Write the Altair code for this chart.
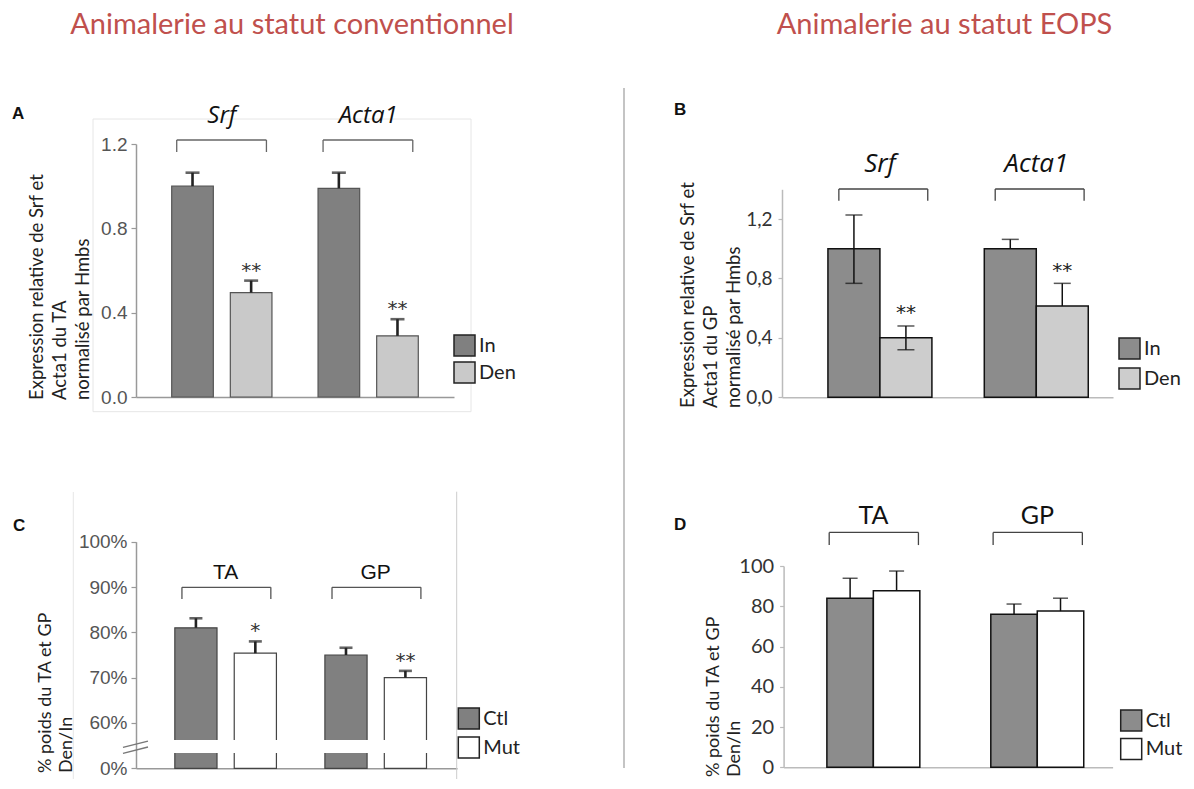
import altair as alt
import pandas as pd

# ---------------- text ----------------
titles = ["Animalerie au statut conventionnel", "Animalerie au statut EOPS"]
panel_letters = ["A", "B", "C", "D"]
ytitle_a = "Expression relative de Srf et\nActa1 du TA\nnormalisé par Hmbs"
ytitle_b = "Expression relative de Srf et\nActa1 du GP\nnormalisé par Hmbs"
ytitle_cd = "% poids du TA et GP\nDen/In"

# ---------------- panel A ----------------
a_groups = ["Srf", "Acta1"]
a_series = ["In", "Den"]
a_bar_group = ["Srf", "Srf", "Acta1", "Acta1"]
a_bar_series = ["In", "Den", "In", "Den"]
a_values = [1.00, 0.495, 0.99, 0.29]
a_err_up = [0.064, 0.057, 0.074, 0.079]
a_err_down = [0, 0, 0, 0]
a_stars = ["", "**", "", "**"]
a_ticks = [0.0, 0.4, 0.8, 1.2]

# ---------------- panel B ----------------
b_groups = ["Srf", "Acta1"]
b_series = ["In", "Den"]
b_bar_group = ["Srf", "Srf", "Acta1", "Acta1"]
b_bar_series = ["In", "Den", "In", "Den"]
b_values = [1.00, 0.40, 1.00, 0.615]
b_err_up = [0.227, 0.08, 0.063, 0.152]
b_err_down = [0.233, 0.08, 0, 0]
b_stars = ["", "**", "", "**"]
b_ticks = [0.0, 0.4, 0.8, 1.2]

# ---------------- panel C ----------------
c_groups = ["TA", "GP"]
c_series = ["Ctl", "Mut"]
c_bar_group = ["TA", "TA", "GP", "GP"]
c_bar_series = ["Ctl", "Mut", "Ctl", "Mut"]
c_values = [81.0, 75.4, 75.0, 70.0]
c_err_up = [2.1, 2.6, 1.6, 1.5]
c_err_down = [0, 0, 0, 0]
c_stars = ["", "*", "", "**"]
c_ticks = [50, 60, 70, 80, 90, 100]   # 50 stands for the broken-axis "0%"

# ---------------- panel D ----------------
d_groups = ["TA", "GP"]
d_series = ["Ctl", "Mut"]
d_bar_group = ["TA", "TA", "GP", "GP"]
d_bar_series = ["Ctl", "Mut", "Ctl", "Mut"]
d_values = [84.0, 87.7, 76.0, 77.6]
d_err_up = [9.9, 9.8, 5.1, 6.4]
d_err_down = [0, 0, 0, 0]
d_stars = ["", "", "", ""]
d_ticks = [0, 20, 40, 60, 80, 100]

W, H = 1178, 771
O = 8


def px(v):
    return v - O


def make_panel(groups, series, bar_group, bar_series, values, err_up, err_down,
               stars, ticks, st):
    df = pd.DataFrame({
        "group": bar_group,
        "series": bar_series,
        "value": values,
        "lo": [v - d for v, d in zip(values, err_down)],
        "hi": [v + u for v, u in zip(values, err_up)],
        "star": stars,
    })
    gdf = pd.DataFrame({"group": groups})

    xs = alt.Scale(range=[px(st["x0"]), px(st["x1"])], paddingInner=st["pi"],
                   paddingOuter=st["po"], align=st["align"])
    ys = alt.Scale(domain=st["ydom"], range=[px(st["ybot"]), px(st["ytop"])],
                   nice=False, zero=False)
    xaxis = alt.Axis(orient="bottom", offset=px(st["ybot"]) - H, labels=False,
                     ticks=False, domain=True, domainColor=st["axc"],
                     domainWidth=1.5, title=None, grid=False)
    yaxis = alt.Axis(orient="left", offset=-px(st["x0"]), values=ticks,
                     labelExpr=st["lexpr"], domainColor=st["axc"], domainWidth=1.5,
                     tickColor=st["axc"], tickSize=st["tick"], tickWidth=1.2,
                     labelFont=st["lfont"], labelFontSize=st["lsize"],
                     labelColor=st["lcolor"], labelPadding=st["lpad"],
                     labelFlush=False, labelOverlap=False, labelBound=False,
                     title=None, grid=False)

    def X(**kw):
        return alt.X("group:N", sort=groups, scale=xs, axis=xaxis, **kw)

    XO = alt.XOffset("series:N", sort=series,
                     scale=alt.Scale(paddingInner=st["xopi"], paddingOuter=0))

    def Y(field):
        return alt.Y(field, scale=ys, axis=yaxis)

    def YD(v):
        return alt.YDatum(v, scale=ys, axis=yaxis)

    legend = alt.Legend(orient="none", legendX=px(st["legx"]), legendY=px(st["legy"]),
                        direction="vertical", title=None, symbolType="square",
                        symbolSize=st["sym"] ** 2, symbolStrokeColor="#222",
                        symbolStrokeWidth=1.5, symbolOpacity=1,
                        labelFont="Lato", labelFontSize=st["legfs"], labelColor="#222",
                        labelOffset=3, rowPadding=st["rowpad"], padding=0, symbolOffset=0)

    bars = alt.Chart(df).mark_bar(stroke=st["bstroke"], strokeWidth=st["bsw"], opacity=1).encode(
        x=X(), xOffset=XO, y=Y("value:Q"), y2=alt.Y2Datum(st["ydom"][0]),
        fill=alt.Fill("series:N", sort=series,
                      scale=alt.Scale(domain=series, range=st["colors"]), legend=legend),
    )
    layers = [bars]

    if st.get("brk"):
        lo_b, hi_b = st["brk"]
        band = alt.Chart(df).mark_bar(color="white", stroke="white", strokeWidth=3).encode(
            x=X(), xOffset=XO, y=YD(hi_b), y2=alt.Y2Datum(lo_b))
        layers.append(band)

    err = alt.Chart(df).mark_rule(color=st["ec"], strokeWidth=st["ew"]).encode(
        x=X(), xOffset=XO, y=Y("lo:Q"), y2="hi:Q")
    cap_hi = alt.Chart(df).mark_tick(color=st["ec"], size=st["cap"], thickness=st["ew"]).encode(
        x=X(), xOffset=XO, y=Y("hi:Q"))
    cap_lo = alt.Chart(df).transform_filter("datum.lo < datum.value").mark_tick(
        color=st["ec"], size=st["cap"], thickness=st["ew"]).encode(
        x=X(), xOffset=XO, y=Y("lo:Q"))
    layers += [err, cap_hi, cap_lo]

    star_l = alt.Chart(df).transform_filter("datum.star != ''").mark_text(
        font="DejaVu Sans", fontSize=st["sfs"], color=st["scol"], dy=st["sdy"],
        baseline="alphabetic").encode(x=X(), xOffset=XO, y=Y("hi:Q"), text="star:N")
    layers.append(star_l)

    br_h = alt.Chart(gdf).mark_rule(color=st["bc"], strokeWidth=1.3).encode(
        x=X(bandPosition=st["b0"]), x2=alt.X2("group:N", bandPosition=st["b1"]),
        y=YD(st["btop"]))
    br_l = alt.Chart(gdf).mark_rule(color=st["bc"], strokeWidth=1.3).encode(
        x=X(bandPosition=st["b0"]), y=YD(st["btop"]), y2=alt.Y2Datum(st["bbot"]))
    br_r = alt.Chart(gdf).mark_rule(color=st["bc"], strokeWidth=1.3).encode(
        x=X(bandPosition=st["b1"]), y=YD(st["btop"]), y2=alt.Y2Datum(st["bbot"]))
    lab = alt.Chart(gdf).mark_text(font=st["gfont"], fontSize=st["gfs"], fontStyle=st["gstyle"],
                                   color="#111", baseline="alphabetic").encode(
        x=X(), y=YD(st["laby"]), text="group:N")
    layers += [br_h, br_l, br_r, lab]

    for (x1, y1, x2, y2) in st.get("slashes", []):
        layers.append(alt.Chart(gdf).transform_filter(f"datum.group == '{groups[0]}'").mark_rule(
            color="#777", strokeWidth=1.3).encode(
            x=alt.value(px(x1)), x2=alt.value(px(x2)), y=YD(y1), y2=alt.Y2Datum(y2)))
    return alt.layer(*layers)


common_a = dict(axc="#999", tick=5, lfont="Liberation Sans", lsize=19, lcolor="#555", lpad=4)
common_b = dict(axc="#bbb", tick=4, lfont="Lato", lsize=19, lcolor="#333", lpad=6)

stA = dict(common_a, x0=136, x1=454, pi=0.315, po=0.244, align=0.5, xopi=0.29,
           ydom=[0, 1.2], ybot=397, ytop=144, lexpr="format(datum.value, '.1f')",
           colors=["#808080", "#c9c9c9"], bstroke="#555", bsw=1.2,
           ec="#222", ew=2.6, cap=14, sfs=20, sdy=-4, scol="#333",
           bc="#666", b0=0.05, b1=0.945, btop=1.219, bbot=1.162, laby=1.30,
           gfont="Open Sans", gfs=24, gstyle="italic",
           legx=453, legy=334, sym=21, legfs=20, rowpad=0)

stB = dict(common_b, x0=782, x1=1113, pi=0.335, po=0.226, align=0.65, xopi=0.0,
           ydom=[0, 1.4], ybot=397.3, ytop=189.3,
           lexpr="replace(format(datum.value, '.1f'), '.', ',')",
           colors=["#8c8c8c", "#cdcdcd"], bstroke="#111", bsw=1.5,
           ec="#111", ew=1.5, cap=17, sfs=20, sdy=-6.5, scol="#222",
           bc="#444", b0=0.105, b1=0.96, btop=1.402, bbot=1.323, laby=1.518,
           gfont="Open Sans", gfs=26, gstyle="italic",
           legx=1118, legy=337, sym=21, legfs=20, rowpad=3)

stC = dict(common_a, x0=136, x1=457, pi=0.323, po=0.231, align=0.56, xopi=0.29,
           ydom=[50, 100], ybot=768.3, ytop=541.7,
           lexpr="datum.value == 50 ? '0%' : datum.value + '%'",
           colors=["#808080", "#ffffff"], bstroke="#444", bsw=1.2,
           ec="#222", ew=2.6, cap=13, sfs=20, sdy=-4, scol="#333",
           bc="#555", b0=0.07, b1=0.945, btop=89.94, bbot=87.36, laby=91.7,
           gfont="Liberation Sans", gfs=21, gstyle="normal",
           legx=457.3, legy=707, sym=21, legfs=20, rowpad=2,
           brk=(53.7, 55.9),
           slashes=[(123, 54.6, 148, 56.0), (123, 53.3, 148, 54.7)])

stD = dict(common_b, x0=783.6, x1=1112.6, pi=0.433, po=0.22, align=0.6, xopi=0.0,
           ydom=[0, 100], ybot=767.3, ytop=566, lexpr="format(datum.value, 'd')",
           colors=["#8c8c8c", "#ffffff"], bstroke="#111", bsw=1.5,
           ec="#111", ew=1.5, cap=15, sfs=20, sdy=-6, scol="#222",
           bc="#444", b0=0.025, b1=0.985, btop=116.7, bbot=110.4, laby=120.9,
           gfont="Lato", gfs=25, gstyle="normal",
           legx=1119.7, legy=709, sym=21, legfs=20, rowpad=1.5)
stD["lsize"] = 20

pA = make_panel(a_groups, a_series, a_bar_group, a_bar_series, a_values, a_err_up,
                a_err_down, a_stars, a_ticks, stA)
pB = make_panel(b_groups, b_series, b_bar_group, b_bar_series, b_values, b_err_up,
                b_err_down, b_stars, b_ticks, stB)
pC = make_panel(c_groups, c_series, c_bar_group, c_bar_series, c_values, c_err_up,
                c_err_down, c_stars, c_ticks, stC)
pD = make_panel(d_groups, d_series, d_bar_group, d_bar_series, d_values, d_err_up,
                d_err_down, d_stars, d_ticks, stD)


def text_layer(t, x, y, **mk):
    return alt.Chart(pd.DataFrame({"t": [t]})).mark_text(**mk).encode(
        x=alt.value(px(x)), y=alt.value(px(y)), text="t:N")


deco = []
one = pd.DataFrame({"t": [""]})
# faint frames
deco.append(alt.Chart(one).mark_rect(filled=False, stroke="#e6e6e6", strokeWidth=1).encode(
    x=alt.value(px(93)), x2=alt.value(px(471)), y=alt.value(px(119)), y2=alt.value(px(411.7))))
deco.append(alt.Chart(one).mark_rule(color="#e6e6e6", strokeWidth=1).encode(
    x=alt.value(px(73.3)), y=alt.value(px(492)), y2=alt.value(px(782))))
deco.append(alt.Chart(one).mark_rule(color="#cccccc", strokeWidth=1).encode(
    x=alt.value(px(456.7)), y=alt.value(px(491.7)), y2=alt.value(px(790))))
# divider
deco.append(alt.Chart(one).mark_rule(color="#c4c4c4", strokeWidth=2).encode(
    x=alt.value(px(624)), y=alt.value(px(88)), y2=alt.value(px(768))))

texts = [
    text_layer(titles[0], 292, 34, font="Lato", fontSize=29, color="#c0504d", align="center",
               baseline="alphabetic"),
    text_layer(titles[1], 944.5, 34, font="Lato", fontSize=29, color="#c0504d", align="center",
               baseline="alphabetic"),
    text_layer(panel_letters[0], 12, 119, font="Liberation Sans", fontSize=17, fontWeight="bold",
               color="#111", align="left", baseline="alphabetic"),
    text_layer(panel_letters[1], 674, 115, font="Liberation Sans", fontSize=17, fontWeight="bold",
               color="#111", align="left", baseline="alphabetic"),
    text_layer(panel_letters[2], 13, 531, font="Liberation Sans", fontSize=17, fontWeight="bold",
               color="#111", align="left", baseline="alphabetic"),
    text_layer(panel_letters[3], 674, 530, font="Liberation Sans", fontSize=17, fontWeight="bold",
               color="#111", align="left", baseline="alphabetic"),
    text_layer(ytitle_a, 27.5, 400, font="Lato", fontSize=18.5, color="#222", angle=270,
               align="left", baseline="top", lineBreak="\n", lineHeight=23),
    text_layer(ytitle_b, 679, 408, font="Lato", fontSize=18.5, color="#222", angle=270,
               align="left", baseline="top", lineBreak="\n", lineHeight=23),
    text_layer(ytitle_cd, 36.5, 773, font="Lato", fontSize=18, color="#222", angle=270,
               align="left", baseline="top", lineBreak="\n", lineHeight=21),
    text_layer(ytitle_cd, 705, 777, font="Lato", fontSize=18, color="#222", angle=270,
               align="left", baseline="top", lineBreak="\n", lineHeight=21),
]

chart = alt.layer(*deco, pA, pB, pC, pD, *texts).resolve_scale(
    x="independent", y="independent", xOffset="independent", fill="independent"
).resolve_axis(
    x="independent", y="independent"
).resolve_legend(
    fill="independent"
).properties(
    width=W, height=H, padding=0, autosize=alt.AutoSizeParams(type="none"),
    background="white",
).configure_view(strokeWidth=0)

chart.save("out.html", embed_options={"renderer": "svg", "actions": False})
